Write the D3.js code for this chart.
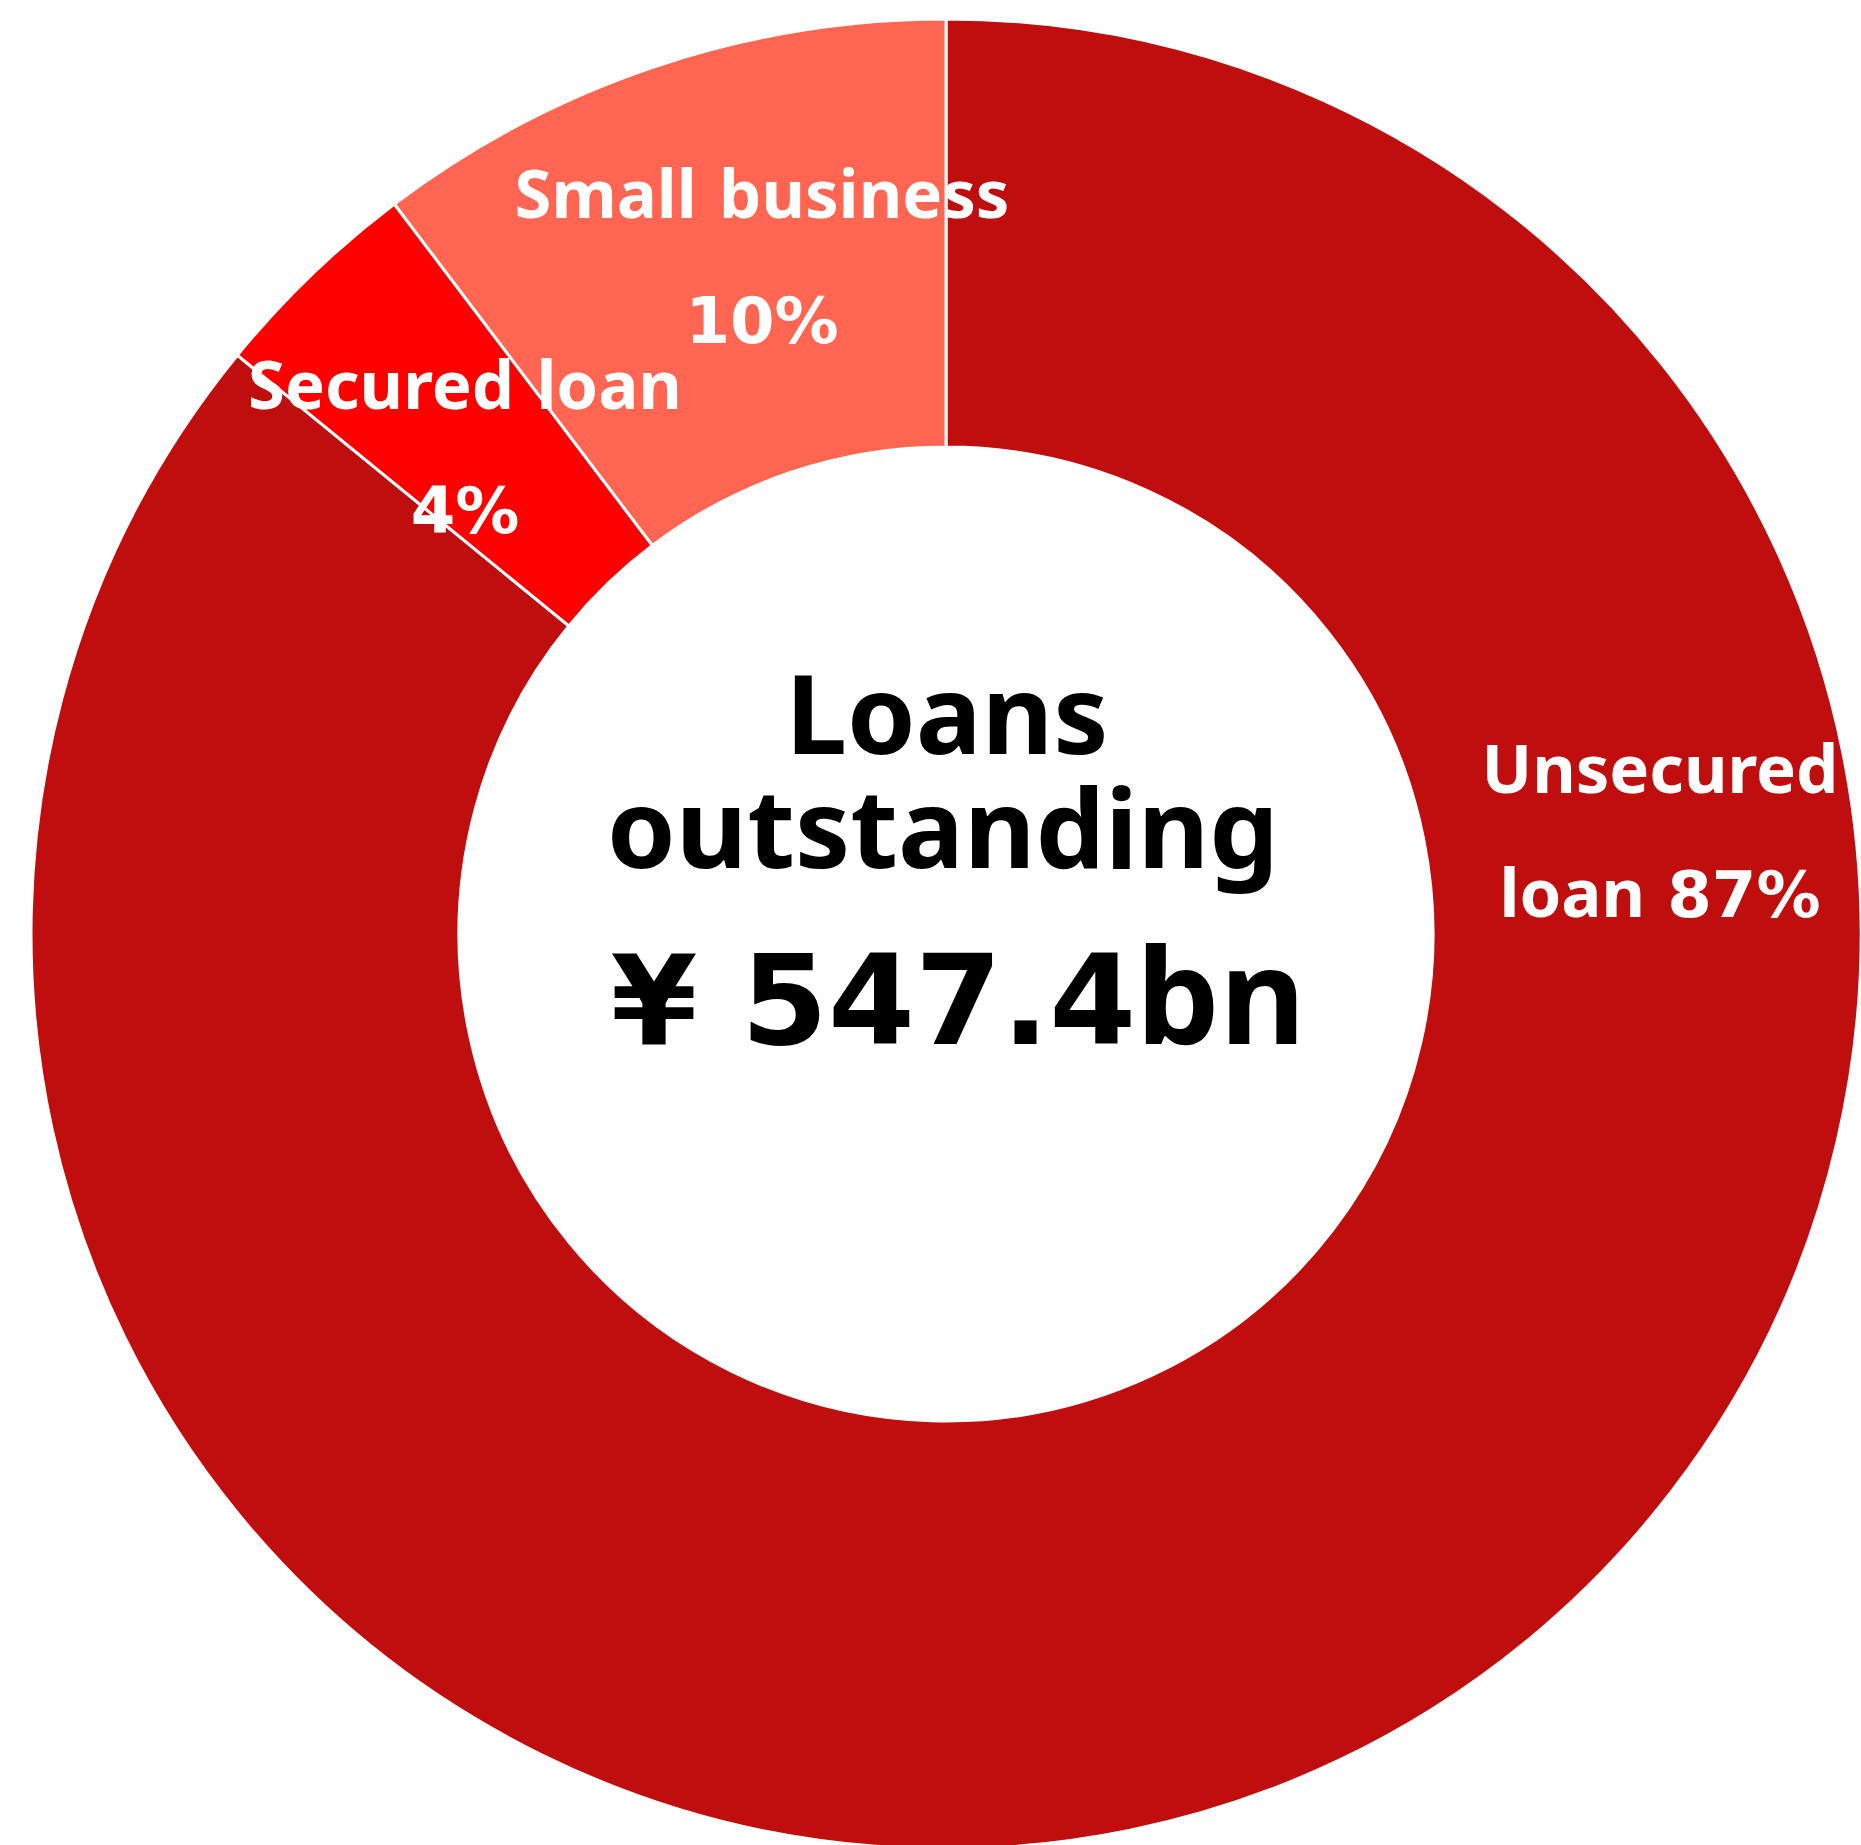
<!DOCTYPE html>
<html>
<head>
<meta charset="utf-8">
<script src="https://cdn.jsdelivr.net/npm/d3@7"></script>
<style>
  html, body { margin: 0; padding: 0; background: #fff; }
  svg { display: block; }
</style>
</head>
<body>
<svg id="chart" width="1861" height="1845"></svg>
<script>
// ---- data ----
const categories = ["Unsecured loan", "Secured loan", "Small business"];
const shares = [85.9, 3.8, 10.3];            // share of loans outstanding (%)
const shareLabels = ["87%", "4%", "10%"];     // printed percentages
const labelLines = [["Unsecured", "loan 87%"], ["Secured loan", "4%"], ["Small business", "10%"]];
const centerLines = ["Loans", "outstanding", "¥ 547.4bn"];

// ---- layout / style ----
const W = 1861, H = 1845;
const cx = 946, cy = 934;
const outerR = 915, innerR = 487;
const colors = d3.scaleOrdinal().domain(categories).range(["#C00D0D", "#FF0000", "#FF6550"]);
const labelLayout = [
  { x: 1660, y: 793, dy: 124, size: 67, numSize: 64 },
  { x: 465, y: 409, dy: 124, size: 67, numSize: 64 },
  { x: 762, y: 218, dy: 125, size: 67, numSize: 64 }
];
const centerLayout = [
  { x: 947, y: 754, size: 110, numSize: 110 },
  { x: 943, y: 868, size: 110, numSize: 110 },
  { x: 958, y: 1044, size: 132, numSize: 125 }
];
const font = "'Noto Sans', 'Open Sans', sans-serif";
const numFont = "'DejaVu Sans', Verdana, sans-serif";

const svg = d3.select("#chart");
const g = svg.append("g").attr("transform", `translate(${cx},${cy})`);

const pie = d3.pie().sort(null).value(d => d.v);
const arc = d3.arc().innerRadius(innerR).outerRadius(outerR);
const data = categories.map((c, i) => ({ c, v: shares[i], i }));

g.selectAll("path.slice")
  .data(pie(data))
  .join("path")
  .attr("class", "slice")
  .attr("d", arc)
  .attr("fill", d => colors(d.data.c))
  .attr("stroke", "#fff")
  .attr("stroke-width", 3)
  .attr("stroke-linejoin", "miter");

// write a line, numerals in a Verdana-like face, words in Noto Sans
function writeLine(textSel, str, x, y, size, numSize) {
  const parts = str.split(/([¥0-9.% ]+)/).filter(s => s.length);
  parts.forEach((p, k) => {
    const isNum = /^[¥0-9.% ]+$/.test(p);
    const ts = textSel.append("tspan")
      .attr("font-family", isNum ? numFont : font)
      .attr("font-size", isNum ? numSize : size)
      .text(p);
    if (k === 0) ts.attr("x", x).attr("y", y);
  });
}

// slice labels
const lbl = svg.append("g");
labelLines.forEach((lines, i) => {
  const L = labelLayout[i];
  lines.forEach((s, j) => {
    const t = lbl.append("text")
      .attr("text-anchor", "middle")
      .attr("font-weight", 700)
      .attr("fill", "#fff")
      .style("white-space", "pre");
    writeLine(t, s, L.x, L.y + j * L.dy, L.size, L.numSize);
  });
});

// center text (one text block, three lines)
const ct = svg.append("text")
  .attr("font-weight", 700)
  .attr("fill", "#000")
  .attr("text-anchor", "middle")
  .style("white-space", "pre");
centerLines.forEach((s, j) => {
  const L = centerLayout[j];
  writeLine(ct, s, L.x, L.y, L.size, L.numSize);
});
</script>
</body>
</html>
